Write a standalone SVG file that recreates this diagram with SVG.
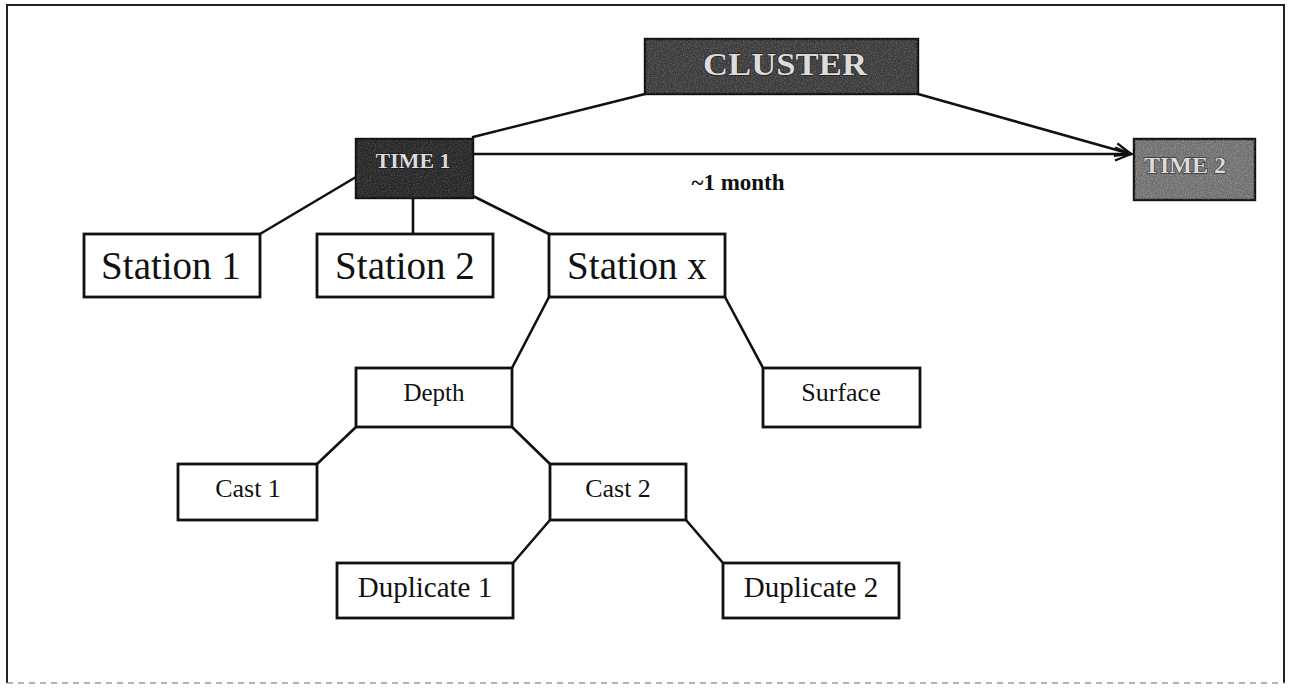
<svg xmlns="http://www.w3.org/2000/svg" width="1292" height="690" viewBox="0 0 1292 690">
<style>
.box{fill:#fff;stroke:#111;stroke-width:2.8}
.dark{stroke:#111;stroke-width:2.4}
.lbl{font-family:"Liberation Serif","Times New Roman",serif;fill:#111;text-anchor:middle}
.emb{font-family:"Liberation Serif","Times New Roman",serif;font-weight:bold;fill:#dcdcdc;stroke:#111;stroke-width:1;text-anchor:middle;paint-order:stroke}
.con{fill:none;stroke:#111;stroke-width:2.6;stroke-linecap:round}
</style>
<defs>
<filter id="grain" x="0" y="0" width="1" height="1">
<feTurbulence type="fractalNoise" baseFrequency="0.85" numOctaves="2" seed="3" result="n"/>
<feColorMatrix in="n" type="matrix" values="0 0 0 0 1  0 0 0 0 1  0 0 0 0 1  1.4 0 0 0 -0.55" result="s"/>
<feComposite in="s" in2="SourceGraphic" operator="in"/>
</filter>
<marker id="arr" markerUnits="userSpaceOnUse" markerWidth="20" markerHeight="16" refX="17" refY="8" orient="auto">
<path d="M1,1.5 L17,8 L1,14.5" fill="none" stroke="#111" stroke-width="2.4"/>
</marker>
</defs>
<rect width="1292" height="690" fill="#fff"/>
<path d="M7,683 L7,5 L1284,5 L1284,683" fill="none" stroke="#222" stroke-width="2"/>
<path d="M7,683 L1284,683" fill="none" stroke="#999" stroke-width="1.5" stroke-dasharray="6 5"/>

<g id="connectors">
<path class="con" d="M645,94 L473,137"/>
<path class="con" d="M918,94 L1131,154" marker-end="url(#arr)"/>
<path class="con" d="M473,154 L1131,154" marker-end="url(#arr)"/>
<path class="con" d="M356,177 L260,234"/>
<path class="con" d="M413,198 L413,234"/>
<path class="con" d="M473,196 L549,234"/>
<path class="con" d="M549,297 L512,368"/>
<path class="con" d="M725,297 L763,368"/>
<path class="con" d="M356,427 L317,464"/>
<path class="con" d="M512,427 L550,464"/>
<path class="con" d="M550,520 L513,563"/>
<path class="con" d="M686,520 L723,563"/>
<text x="738" y="190" font-family="Liberation Serif, Times New Roman, serif" font-weight="bold" font-size="23" text-anchor="middle" fill="#111">~1 month</text>
</g>

<g id="cluster">
<rect class="dark" x="645" y="39" width="273" height="55" fill="#3a3a3a"/>
<rect x="645" y="39" width="273" height="55" fill="#000" filter="url(#grain)" opacity="0.35"/>
<text class="emb" x="785" y="75" font-size="31" textLength="164" lengthAdjust="spacingAndGlyphs">CLUSTER</text>
</g>

<g id="time1">
<rect class="dark" x="356" y="139" width="117" height="59" fill="#262626"/>
<rect x="356" y="139" width="117" height="59" fill="#000" filter="url(#grain)" opacity="0.3"/>
<text class="emb" x="413" y="168" font-size="21" textLength="75" lengthAdjust="spacingAndGlyphs">TIME 1</text>
</g>

<g id="time2">
<rect class="dark" x="1134" y="139" width="121" height="61" fill="#6e6e6e"/>
<rect x="1134" y="139" width="121" height="61" fill="#000" filter="url(#grain)" opacity="0.45"/>
<text class="emb" x="1185" y="173" font-size="24" textLength="82" lengthAdjust="spacingAndGlyphs">TIME 2</text>
</g>

<g id="station1">
<rect class="box" x="84" y="234" width="176" height="63"/>
<text class="lbl" x="171" y="279" font-size="39">Station 1</text>
</g>
<g id="station2">
<rect class="box" x="317" y="234" width="176" height="63"/>
<text class="lbl" x="405" y="279" font-size="39">Station 2</text>
</g>
<g id="stationx">
<rect class="box" x="549" y="234" width="176" height="63"/>
<text class="lbl" x="637" y="279" font-size="39">Station x</text>
</g>

<g id="depth">
<rect class="box" x="356" y="368" width="156" height="59"/>
<text class="lbl" x="434" y="401" font-size="25">Depth</text>
</g>
<g id="surface">
<rect class="box" x="763" y="368" width="157" height="59"/>
<text class="lbl" x="841" y="401" font-size="26">Surface</text>
</g>

<g id="cast1">
<rect class="box" x="178" y="464" width="139" height="56"/>
<text class="lbl" x="248" y="497" font-size="26">Cast 1</text>
</g>
<g id="cast2">
<rect class="box" x="550" y="464" width="136" height="56"/>
<text class="lbl" x="618" y="497" font-size="26">Cast 2</text>
</g>

<g id="duplicate1">
<rect class="box" x="337" y="563" width="176" height="55"/>
<text class="lbl" x="425" y="597" font-size="29">Duplicate 1</text>
</g>
<g id="duplicate2">
<rect class="box" x="723" y="563" width="176" height="55"/>
<text class="lbl" x="811" y="597" font-size="29">Duplicate 2</text>
</g>
</svg>
